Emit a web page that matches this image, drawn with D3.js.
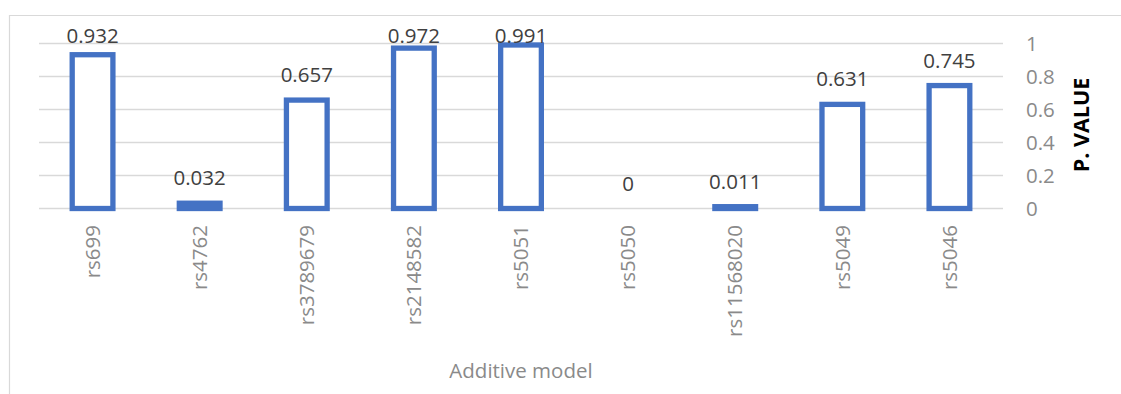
<!DOCTYPE html>
<html>
<head>
<meta charset="utf-8">
<script src="https://cdn.jsdelivr.net/npm/d3@7"></script>
<style>
  html, body { margin: 0; padding: 0; background: #ffffff; }
  svg { display: block; }
  text { font-family: "Open Sans", "Liberation Sans", sans-serif; }
</style>
</head>
<body>
<script>
// SNP markers and their p-values under the additive model
const snps = ["rs699", "rs4762", "rs3789679", "rs2148582", "rs5051", "rs5050", "rs11568020", "rs5049", "rs5046"];
const pValues = [0.932, 0.032, 0.657, 0.972, 0.991, 0, 0.011, 0.631, 0.745];
const yTicks = [0, 0.2, 0.4, 0.6, 0.8, 1];
const xTitle = "Additive model";
const yTitle = "P. VALUE";

const W = 1121, H = 394;
const plot = { left: 39, right: 1003, top: 43.5, bottom: 208.5 };

const svg = d3.select("body").append("svg")
  .attr("width", W).attr("height", H);

// chart frame (top and left edges)
svg.append("path")
  .attr("d", `M9.5,${H} V15.5 H${W}`)
  .attr("fill", "none")
  .attr("stroke", "#d9d9d9")
  .attr("stroke-width", 1.2);

const x = d3.scaleBand()
  .domain(snps)
  .range([plot.left, plot.right])
  .paddingInner(0.62)
  .paddingOuter(0.31);

const y = d3.scaleLinear()
  .domain([0, 1])
  .range([plot.bottom, plot.top]);

// horizontal gridlines
svg.append("g")
  .selectAll("line")
  .data(yTicks)
  .join("line")
  .attr("x1", plot.left).attr("x2", plot.right)
  .attr("y1", d => y(d)).attr("y2", d => y(d))
  .attr("stroke", "#d9d9d9")
  .attr("stroke-width", 1.3);

// right-hand value axis
const yAxis = d3.axisRight(y)
  .tickValues(yTicks)
  .tickSize(0)
  .tickPadding(0)
  .tickFormat(d => d3.format("~g")(d));

const yAxisG = svg.append("g")
  .attr("transform", `translate(1026,0)`)
  .call(yAxis);
yAxisG.select(".domain").remove();
yAxisG.selectAll("text")
  .attr("x", 0)
  .attr("font-size", 20.5)
  .attr("fill", "#8a8a8a")
  .attr("text-anchor", "start");

// bars (outlined, white interior); zero values draw nothing
svg.append("g")
  .selectAll("rect")
  .data(snps.map((s, i) => ({ s, v: pValues[i] })).filter(d => d.v > 0))
  .join("rect")
  .attr("x", d => x(d.s))
  .attr("width", x.bandwidth())
  .attr("y", d => y(d.v))
  .attr("height", d => y(0) - y(d.v))
  .attr("fill", "#ffffff")
  .attr("stroke", "#4472c4")
  .attr("stroke-width", 5.3);

// data labels above bars, kept inside the plot's top edge
svg.append("g")
  .selectAll("text")
  .data(snps.map((s, i) => ({ s, v: pValues[i] })))
  .join("text")
  .attr("x", d => x(d.s) + x.bandwidth() / 2)
  .attr("y", d => Math.max(y(d.v) - 18, y(1) - 0.8))
  .attr("text-anchor", "middle")
  .attr("font-size", 20.5)
  .attr("fill", "#404040")
  .text(d => d3.format("~g")(d.v));

// category axis labels, rotated
const xAxis = d3.axisBottom(x).tickSize(0).tickPadding(0);
const xAxisG = svg.append("g")
  .attr("transform", `translate(0,${plot.bottom})`)
  .call(xAxis);
xAxisG.select(".domain").remove();
xAxisG.selectAll("text")
  .attr("transform", "rotate(-90)")
  .attr("x", -16.5)
  .attr("y", 0)
  .attr("dy", "0.35em")
  .attr("text-anchor", "end")
  .attr("font-size", 20.5)
  .attr("fill", "#8a8a8a");

// axis titles
svg.append("text")
  .attr("x", (plot.left + plot.right) / 2)
  .attr("y", 378)
  .attr("text-anchor", "middle")
  .attr("font-size", 20.5)
  .attr("fill", "#8a8a8a")
  .text(xTitle);

svg.append("text")
  .attr("transform", `translate(1089,125) rotate(-90)`)
  .attr("text-anchor", "middle")
  .attr("font-size", 21.5)
  .attr("font-weight", "bold")
  .attr("fill", "#000000")
  .text(yTitle);
</script>
</body>
</html>
